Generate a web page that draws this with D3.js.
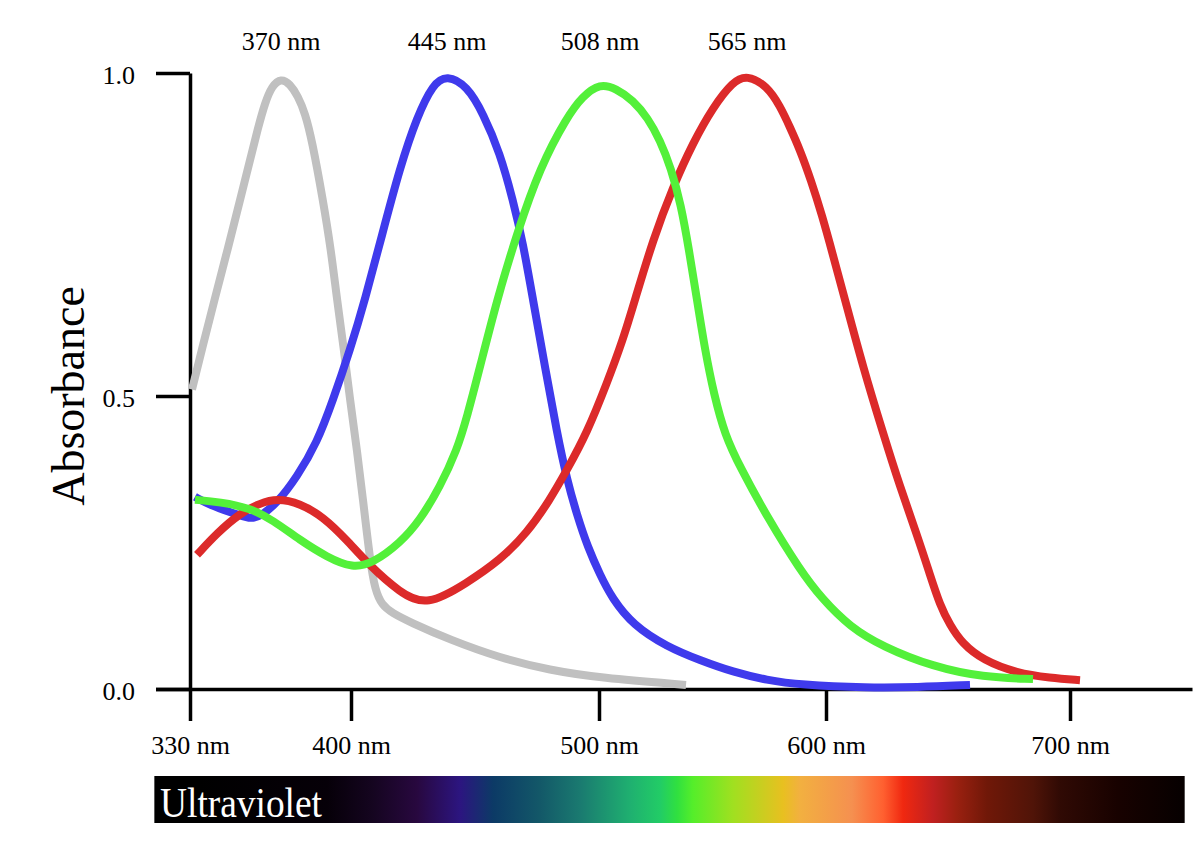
<!DOCTYPE html>
<html><head><meta charset="utf-8">
<script src="https://cdn.jsdelivr.net/npm/d3@7"></script>
<style>body{margin:0;background:#fff}svg{display:block}</style>
</head><body>
<svg id="chart" width="1200" height="861"></svg>
<script>
// ---- data ----
const wavelengthTicks = [330, 400, 500, 600, 700];
const absorbanceTicks = [0, 0.5, 1.0];
const peakLabels = ["370 nm", "445 nm", "508 nm", "565 nm"];

// [wavelength nm, absorbance]
const uvCone = [[330.87,0.510],[335.65,0.579],[340.87,0.652],[346.52,0.729],[351.74,0.803],[356.09,0.865],[359.57,0.915],[362.61,0.954],[365.65,0.980],[369.57,0.992],[373.48,0.983],[376.96,0.964],[380.0,0.938],[383.04,0.896],[387.83,0.803],[391.30,0.726],[393.91,0.649],[396.96,0.571],[399.57,0.493],[402.42,0.408],[404.84,0.323],[407.66,0.220],[409.68,0.169],[412.50,0.143],[416.53,0.130],[423.79,0.114],[439.92,0.084],[460.08,0.053],[480.24,0.032],[500.44,0.019],[538.33,0.007]];
const sCone = [[332.17,0.328],[338.70,0.314],[348.70,0.300],[356.09,0.290],[360.43,0.294],[367.83,0.317],[376.52,0.362],[385.22,0.420],[392.17,0.493],[399.57,0.571],[405.65,0.649],[412.50,0.749],[419.76,0.854],[426.61,0.932],[433.06,0.983],[438.71,0.997],[446.77,0.980],[453.23,0.938],[460.08,0.876],[465.32,0.803],[469.35,0.737],[473.39,0.649],[478.23,0.545],[483.06,0.437],[487.10,0.357],[491.13,0.297],[495.56,0.241],[500.44,0.195],[505.73,0.155],[514.98,0.109],[529.96,0.072],[544.49,0.049],[559.03,0.029],[574.01,0.015],[588.55,0.007],[616.80,0.002],[637.30,0.003],[659.02,0.007]];
const mCone = [[332.17,0.323],[343.04,0.319],[356.09,0.309],[366.09,0.288],[377.83,0.254],[389.57,0.225],[400.81,0.206],[408.87,0.215],[419.76,0.249],[427.82,0.288],[435.89,0.345],[442.74,0.408],[446.77,0.464],[452.02,0.545],[458.87,0.649],[466.94,0.752],[476.21,0.854],[487.10,0.932],[493.40,0.964],[500.44,0.984],[507.50,0.976],[514.98,0.958],[521.59,0.930],[526.87,0.896],[531.72,0.853],[536.12,0.796],[539.65,0.726],[543.17,0.649],[546.70,0.571],[550.66,0.502],[555.51,0.433],[562.11,0.379],[574.01,0.294],[588.55,0.203],[598.24,0.154],[609.84,0.106],[623.36,0.072],[643.85,0.038],[664.34,0.020],[684.84,0.017]];
const lCone = [[333.04,0.229],[341.74,0.266],[351.74,0.300],[360.43,0.317],[367.83,0.325],[377.83,0.317],[387.83,0.294],[398.26,0.254],[406.45,0.215],[419.76,0.164],[430.65,0.141],[446.77,0.181],[460.08,0.220],[470.97,0.266],[480.24,0.323],[487.10,0.374],[495.16,0.437],[503.52,0.520],[510.57,0.587],[515.86,0.649],[523.79,0.742],[532.60,0.824],[541.41,0.892],[550.22,0.947],[559.03,0.987],[565.20,0.997],[574.01,0.980],[579.74,0.949],[584.14,0.916],[588.55,0.881],[593.39,0.834],[598.24,0.780],[602.87,0.718],[607.79,0.649],[615.16,0.545],[623.36,0.437],[630.33,0.345],[637.30,0.263],[642.62,0.195],[646.72,0.143],[650.82,0.109],[655.74,0.078],[664.34,0.049],[678.28,0.027],[691.80,0.019],[704.10,0.015]];

const spectrumStops = [[314.5,"#000000"],[334,"#000000"],[389.6,"#060008"],[408.9,"#150520"],[426.6,"#28083f"],[444.0,"#2c1580"],[457.3,"#0c3a66"],[476.2,"#135868"],[492.3,"#1a7a70"],[513.7,"#1fb070"],[526.9,"#22cc66"],[534.4,"#30e040"],[541.4,"#55ee2a"],[559.0,"#a0e020"],[581.1,"#e8c020"],[588.5,"#f2b040"],[610.6,"#f59050"],[623.4,"#ff6030"],[631.6,"#f02810"],[643.9,"#c02020"],[653.7,"#9a2010"],[666.0,"#701808"],[684.8,"#501408"],[695.9,"#300a04"],[719.3,"#180200"],[747,"#060000"]];

// ---- chart ----
const svg = d3.select("#chart");
const font = "'Liberation Serif','Times New Roman',serif";

const x = d3.scaleLinear()
  .domain([315, 330, 400, 500, 600, 700, 750])
  .range([155.5, 190, 351, 599, 826, 1070, 1192]);
const y = d3.scaleLinear()
  .domain([0, 0.5, 1])
  .range([689, 396, 73]);

// y axis
const gy = svg.append("g")
  .attr("transform", `translate(${x(330)},0)`)
  .call(d3.axisLeft(y).tickValues(absorbanceTicks).tickSize(34).tickSizeOuter(0).tickPadding(21).tickFormat(d3.format(".1f")));
gy.selectAll("path,line").attr("stroke", "#000").attr("stroke-width", 3.5);
gy.selectAll("text").attr("font-family", font).attr("font-size", 26).attr("fill", "#000").attr("dy", "0.42em");

// x axis
const gx = svg.append("g")
  .attr("transform", `translate(0,${y(0)})`)
  .call(d3.axisBottom(x).tickValues(wavelengthTicks).tickSize(32).tickSizeOuter(0).tickFormat(d => d + " nm"));
gx.selectAll("path,line").attr("stroke", "#000").attr("stroke-width", 3.5);
gx.selectAll("text").attr("font-family", font).attr("font-size", 26).attr("fill", "#000").attr("y", 65).attr("dy", 0);

// curves
const line = d3.line().x(d => x(d[0])).y(d => y(d[1])).curve(d3.curveBasis);
const series = [
  {data: uvCone, color: "#c0c0c0"},
  {data: sCone, color: "#3f3aec"},
  {data: lCone, color: "#dc2a2a"},
  {data: mCone, color: "#53f03a"}
];
svg.append("g").selectAll("path").data(series).join("path")
  .attr("d", d => line(d.data))
  .attr("fill", "none")
  .attr("stroke", d => d.color)
  .attr("stroke-width", 8)
  .attr("stroke-linecap", "butt");

// peak labels
const peakOrder = [uvCone, sCone, mCone, lCone];
svg.append("g").selectAll("text").data(peakLabels).join("text")
  .attr("x", (d, i) => x(peakOrder[i].reduce((a, b) => b[1] > a[1] ? b : a)[0]))
  .attr("y", 50)
  .attr("text-anchor", "middle")
  .attr("font-family", font).attr("font-size", 26)
  .text(d => d);

// y label
svg.append("text")
  .attr("transform", `translate(84,${y(0.5)}) rotate(-90)`)
  .attr("text-anchor", "middle")
  .attr("font-family", font).attr("font-size", 46)
  .text("Absorbance");

// spectrum bar
const bx0 = x(314.5), bx1 = x(747);
const grad = svg.append("defs").append("linearGradient")
  .attr("id", "spec").attr("gradientUnits", "userSpaceOnUse")
  .attr("x1", bx0).attr("x2", bx1).attr("y1", 0).attr("y2", 0);
grad.selectAll("stop").data(spectrumStops).join("stop")
  .attr("offset", d => (x(d[0]) - bx0) / (bx1 - bx0))
  .attr("stop-color", d => d[1]);
svg.append("rect").attr("x", bx0).attr("y", 776).attr("width", bx1 - bx0).attr("height", 47).attr("fill", "url(#spec)");
svg.append("text")
  .attr("x", 160).attr("y", 817)
  .attr("fill", "#fff")
  .attr("font-family", font).attr("font-size", 43)
  .attr("textLength", 162).attr("lengthAdjust", "spacingAndGlyphs")
  .text("Ultraviolet");
</script>
</body></html>
